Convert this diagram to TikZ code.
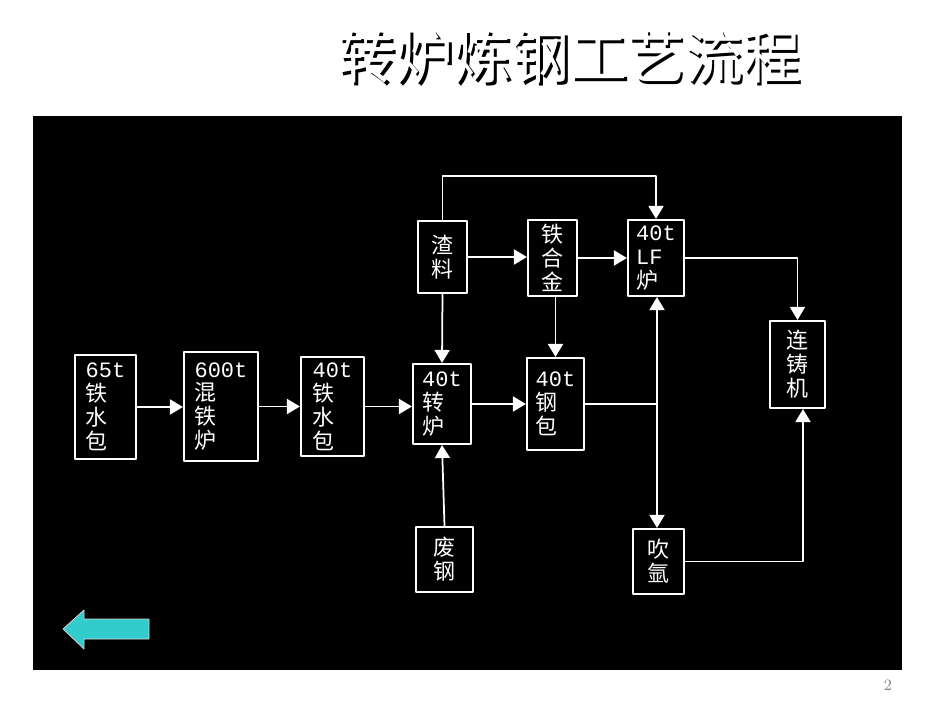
\documentclass[tikz,border=0pt]{standalone}
\usepackage{fontspec}
\newfontfamily\cjk{Noto Sans CJK SC}
\setmonofont{Liberation Mono}
\usetikzlibrary{arrows.meta}
\definecolor{backcyan}{RGB}{51,204,204}
\newcommand\lat[1]{{\ttfamily #1}}
\tikzset{
	blk/.style={draw=white,line width=1.2pt,align=left,inner sep=0pt,text=white,
		font=\cjk\fontsize{12.5}{13.6}\selectfont},
	arr/.style={draw=white,line width=1pt,->},
	lin/.style={draw=white,line width=1pt}
}
\begin{document}
\begin{tikzpicture}[x=0.02cm,y=-0.02cm,>={Triangle[length=0.26cm,width=0.3cm]},line join=round]
	\useasboundingbox (0,0) rectangle (950,713);
	% title and slide
	\node[font=\cjk\fontsize{33}{33}\selectfont,text=black] at (572,59) {转炉炼钢工艺流程};
	\node[font=\cjk\fontsize{33}{33}\selectfont,text=white] (title) at (569.5,56.5) {转炉炼钢工艺流程};
	\fill[black] (33,116) rectangle (902,670);
	\node[text=gray,font=\small] (pg) at (888,685) {2};
	\path (657,405) coordinate (jn)
		(0,176) coordinate (top);
	% boxes
	\node[blk,minimum width=1.22cm,minimum height=2.08cm] (ladle1) at (105.5,407) {\lat{65t}\\铁\\水\\包};
	\node[blk,minimum width=1.48cm,minimum height=2.18cm] (mixer) at (221,406.5) {\lat{600t}\\混\\铁\\炉};
	\node[blk,minimum width=1.26cm,minimum height=1.98cm] (ladle2) at (332.5,406.5) {\lat{40t}\\铁\\水\\包};
	\node[blk,minimum width=1.16cm,minimum height=1.6cm] (conv) at (442,404) {\lat{40t}\\转\\炉};
	\node[blk,minimum width=1.14cm,minimum height=1.84cm] (steel) at (555.5,404) {\lat{40t}\\钢\\包};
	\node[blk,minimum width=0.98cm,minimum height=1.44cm] (slag) at (442.5,257) {渣\\料};
	\node[blk,minimum width=0.98cm,minimum height=1.52cm] (alloy) at (552.5,258) {铁\\合\\金};
	\node[blk,minimum width=1.12cm,minimum height=1.52cm] (lf) at (656,258) {\lat{40t}\\\lat{LF}\\炉};
	\node[blk,minimum width=1.1cm,minimum height=1.74cm] (ccm) at (797.5,364.5) {连\\铸\\机};
	\node[blk,minimum width=1.14cm,minimum height=1.3cm] (scrap) at (444.5,559.5) {废\\钢};
	\node[blk,minimum width=1.02cm,minimum height=1.3cm] (argon) at (658.5,561.5) {吹\\氩};
	% flow
	\draw[arr] (ladle1.east) -- (ladle1.east -| mixer.west);
	\draw[arr] (mixer.east) -- (mixer.east -| ladle2.west);
	\draw[arr] (ladle2.east) -- (ladle2.east -| conv.west);
	\draw[arr] (conv.east) -- (conv.east -| steel.west);
	\draw[arr] (slag.east) -- (slag.east -| alloy.west);
	\draw[arr] (alloy.east) -- (alloy.east -| lf.west);
	\draw[arr] (slag.north) -- (slag.north |- top) -| (lf.north);
	\draw[arr] (slag.south) -- (conv.north);
	\draw[arr] (steel.north |- alloy.south) -- (steel.north);
	\draw[arr] (scrap.north) -- (conv.south);
	\draw[lin] (steel.east) -- (steel.east -| jn);
	\draw[arr] (jn) -- (jn |- lf.south);
	\draw[arr] (jn) -- (jn |- argon.north);
	\draw[arr] (lf.east) -| (ccm.north);
	\draw[arr] (argon.east) -| ([xshift=0.11cm]ccm.south);
	% back button
	\draw[fill=backcyan,draw=white!85!black,line width=.4pt] (63,629) -- (84,610) -- (84,619) -- (149,619)
		-- (149,639) -- (84,639) -- (84,649) -- cycle;
\end{tikzpicture}
\end{document}
